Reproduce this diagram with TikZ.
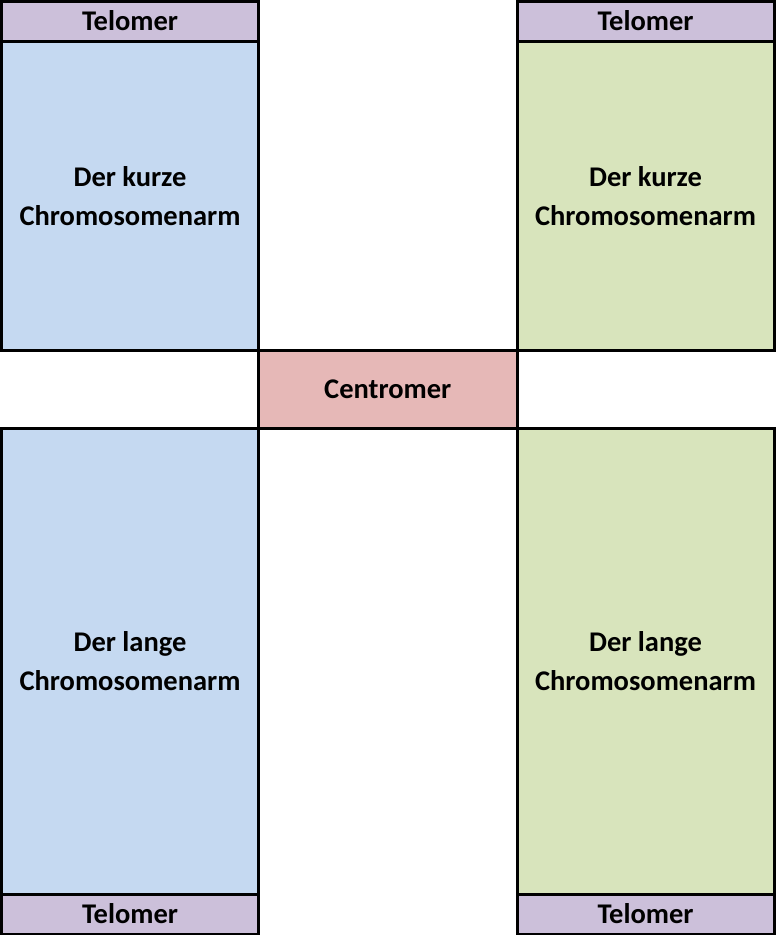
\documentclass[tikz,border=0pt]{standalone}
\usepackage{fontspec}
\setmainfont{Carlito}
\usepackage{tikz}
\usetikzlibrary{positioning}

\definecolor{telomerviolett}{HTML}{CCC0DA}
\definecolor{armblau}{HTML}{C5D9F1}
\definecolor{armgruen}{HTML}{D8E4BC}
\definecolor{centrorot}{HTML}{E6B8B7}

\begin{document}
\begin{tikzpicture}[
        box/.style={rectangle, draw=black, line width=3pt, inner sep=0pt, outer sep=0pt, align=center, font=\fontsize{28.5}{39}\selectfont\bfseries},
        telomer/.style={box, fill=telomerviolett, minimum width=257pt, minimum height=40pt},
        kurzarm/.style={box, minimum width=257pt, minimum height=309.5pt},
        langarm/.style={box, minimum width=257pt, minimum height=465.5pt},
        centro/.style={box, fill=centrorot, minimum width=258.5pt, minimum height=78pt}
    ]
    \useasboundingbox (0,0) rectangle (776pt,-935pt);
    % Linkes Chromatid
    \node[telomer, anchor=north west] (telOL) at (1.5pt,-1pt) {Telomer};
    \node[kurzarm, fill=armblau, below=0pt of telOL] (kurzL) {Der kurze\\Chromosomenarm};
    % Centromer
    \node[centro, below right=0pt and 0pt of kurzL] (centromer) {Centromer};
    \node[langarm, fill=armblau, below left=0pt and 0pt of centromer] (langL) {Der lange\\Chromosomenarm};
    \node[telomer, below=0pt of langL] (telUL) {Telomer};
    % Rechtes Chromatid
    \node[telomer, right=258.5pt of telOL] (telOR) {Telomer};
    \node[kurzarm, fill=armgruen, below=0pt of telOR] (kurzR) {Der kurze\\Chromosomenarm};
    \node[langarm, fill=armgruen, below right=0pt and 0pt of centromer] (langR) {Der lange\\Chromosomenarm};
    \node[telomer, below=0pt of langR] (telUR) {Telomer};
\end{tikzpicture}
\end{document}
